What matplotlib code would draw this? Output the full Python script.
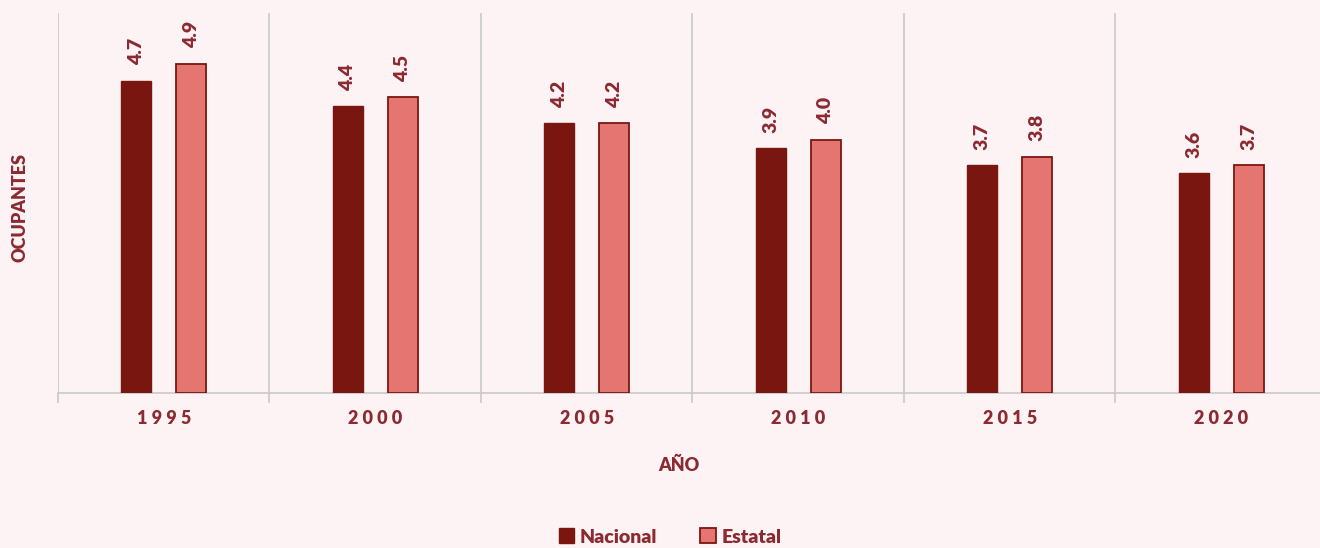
import matplotlib
matplotlib.use("Agg")
import matplotlib.pyplot as plt
import numpy as np
from matplotlib.patches import Patch

years = ["1995", "2000", "2005", "2010", "2015", "2020"]
nacional = [4.7, 4.4, 4.2, 3.9, 3.7, 3.6]
estatal = [4.9, 4.5, 4.2, 4.0, 3.8, 3.7]

BG = "#FDF3F4"
C_NAC = "#7A1610"
C_EST = "#E57571"
TXT = "#8B2A30"
GRID = "#C9C9C9"
WT = "heavy"

plt.rcParams['font.family'] = ['Lato', 'DejaVu Sans']

fig = plt.figure(figsize=(13.2, 5.48), dpi=100, facecolor=BG)
W, H = 1320, 548
ax = fig.add_axes([58 / W, (548 - 393) / H, 1269 / W, 380 / H])
ax.set_facecolor(BG)

x = np.arange(len(years))
bw = 0.142
off = 0.13
ax.bar(x - off, np.array(nacional) - 1.0, bw, bottom=1.0, color=C_NAC,
       edgecolor=C_NAC, linewidth=1, zorder=3)
ax.bar(x + off, np.array(estatal) - 1.0, bw, bottom=1.0, color=C_EST,
       edgecolor=C_NAC, linewidth=1.3, zorder=3)

for xs, vals in ((x - off, nacional), (x + off, estatal)):
    for xi, v in zip(xs, vals):
        ax.annotate(f"{v:.1f}", (xi, v), xytext=(0, 11), textcoords="offset points",
                    rotation=90, ha="center", va="bottom", fontsize=14,
                    fontweight=WT, color=TXT)

ax.set_xlim(-0.5, len(years) - 0.5)
ax.set_ylim(1.0, 5.5)
for b in np.arange(len(years)) - 0.5:
    ax.axvline(b, color=GRID, linewidth=1.2, zorder=1)

ax.set_yticks([])
ax.set_xticks(np.arange(len(years)) - 0.5, minor=False)
ax.set_xticklabels([])
ax.tick_params(axis="x", which="major", length=7, width=1.2, color=GRID)
ax.set_xticks(x, minor=True)
ax.set_xticklabels([" ".join(y) for y in years], minor=True, fontsize=13,
                   fontweight=WT, color=TXT)
ax.tick_params(axis="x", which="minor", length=0, pad=12)

for s in ["top", "right", "left"]:
    ax.spines[s].set_visible(False)
ax.spines["bottom"].set_color(GRID)
ax.spines["bottom"].set_linewidth(1.2)

fig.text(679 / W, 1 - 465 / H, "AÑO", ha="center", va="center", fontsize=13,
         fontweight=WT, color=TXT)
fig.text(20 / W, 1 - 207 / H, "OCUPANTES", ha="center", va="center",
         rotation=90, fontsize=13, fontweight=WT, color=TXT)

handles = [Patch(facecolor=C_NAC, edgecolor=C_NAC, label="Nacional"),
           Patch(facecolor=C_EST, edgecolor=C_NAC, linewidth=1.3, label="Estatal")]
leg = fig.legend(handles=handles, loc="center", bbox_to_anchor=(670 / W, 1 - 537 / H),
                 ncol=2, frameon=False, handlelength=0.8, handleheight=0.8,
                 handletextpad=0.3, columnspacing=2.2,
                 prop={"weight": WT, "size": 14})
for t in leg.get_texts():
    t.set_color(TXT)

fig.savefig("out.png", dpi=100, facecolor=BG)
